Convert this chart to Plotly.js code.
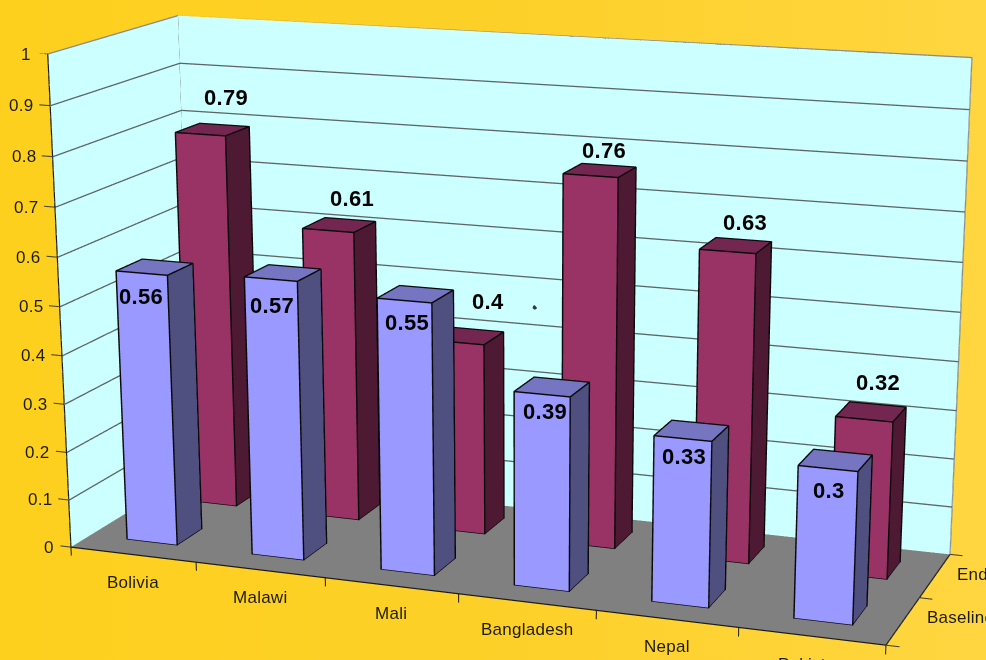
<!DOCTYPE html>
<html>
<head>
<meta charset="utf-8">
<script src="https://cdn.plot.ly/plotly-3.0.1.min.js"></script>
<style>
  html, body { margin: 0; padding: 0; width: 986px; height: 660px; overflow: hidden; }
  body { position: relative; background: linear-gradient(90deg, #fdd01e 0%, #fdd02a 55%, #ffd640 100%); }
  /* The scene is taller than the window: Plotly's lens is fixed at 45 degrees and this chart has a flat perspective. */
  #chart { position: absolute; left: 0; top: -746px; width: 1044px; height: 2426px; }
  text.annotation-text { letter-spacing: 0.015em; }
</style>
</head>
<body>
<div id="chart"></div>
<script>
const countries = ['Bolivia', 'Malawi', 'Mali', 'Bangladesh', 'Nepal', 'Pakistan'];
const seriesNames = ['Baseline', 'Endline'];
const baseline = [0.56, 0.57, 0.55, 0.39, 0.33, 0.3];
const endline = [0.79, 0.61, 0.4, 0.76, 0.63, 0.32];
const valueTicks = [0, 0.1, 0.2, 0.3, 0.4, 0.5, 0.6, 0.7, 0.8, 0.9, 1];

const palette = {
  baseline: { front: '#9999ff', top: '#7575c1', side: '#4f4f80' },
  endline: { front: '#993366', top: '#732650', side: '#4d1933' }
};

// Hand placement of the value labels, in pixels from the top of each bar.
const baselineLabelShift = [[-14, -29], [-11, -32], [-8, -28], [-7, -24], [-7, -25], [-6, -30]];
const endlineLabelShift = [[14, 32], [13, 27], [20, 35], [4, 20], [10, 23], [7, 30]];

const barInset = 0.3;   // gap on each side of a bar inside its category or series slot
const nudge = 0.004;    // lifts outlines off the faces they sit on

const flatLight = { ambient: 1, diffuse: 0, specular: 0, fresnel: 0, roughness: 1 };

// One solid mesh per series: front, right and top faces of each bar.
function barMesh(values, slot, colours) {
  const m = { x: [], y: [], z: [], i: [], j: [], k: [], facecolor: [] };
  const quad = (pts, colour) => {
    const n = m.x.length;
    pts.forEach(p => { m.x.push(p[0]); m.y.push(p[1]); m.z.push(p[2]); });
    m.i.push(n, n); m.j.push(n + 1, n + 2); m.k.push(n + 2, n + 3);
    m.facecolor.push(colour, colour);
  };
  values.forEach((v, c) => {
    const x0 = c + barInset, x1 = c + 1 - barInset, y0 = slot + barInset, y1 = slot + 1 - barInset;
    quad([[x0, y0, 0], [x1, y0, 0], [x1, y0, v], [x0, y0, v]], colours.front);
    quad([[x1, y0, 0], [x1, y1, 0], [x1, y1, v], [x1, y0, v]], colours.side);
    quad([[x0, y0, v], [x1, y0, v], [x1, y1, v], [x0, y1, v]], colours.top);
  });
  return Object.assign(m, {
    type: 'mesh3d', flatshading: true, hoverinfo: 'skip', showscale: false, lighting: flatLight
  });
}

function flatQuad(pts, colour) {
  return {
    type: 'mesh3d', x: pts.map(p => p[0]), y: pts.map(p => p[1]), z: pts.map(p => p[2]),
    i: [0, 0], j: [1, 2], k: [2, 3], color: colour, flatshading: true, hoverinfo: 'skip', lighting: flatLight
  };
}

// Polylines joined into one trace, separated by gaps.
function lines(paths, colour, width) {
  const t = { type: 'scatter3d', mode: 'lines', x: [], y: [], z: [], hoverinfo: 'skip',
              line: { color: colour, width: width }, connectgaps: false, showlegend: false };
  paths.forEach(path => {
    path.forEach(p => { t.x.push(p[0]); t.y.push(p[1]); t.z.push(p[2]); });
    t.x.push(null); t.y.push(null); t.z.push(null);
  });
  return t;
}

function barEdges(values, slot) {
  const paths = [];
  const e = nudge;
  values.forEach((v, c) => {
    const x0 = c + barInset, x1 = c + 1 - barInset, y0 = slot + barInset, y1 = slot + 1 - barInset;
    paths.push([[x0, y0 - e, 0], [x1 + e, y0 - e, 0], [x1 + e, y1, 0], [x1 + e, y1, v + e / 4], [x0, y1, v + e / 4], [x0, y0 - e, v + e / 4], [x0, y0 - e, 0]]);
    paths.push([[x0, y0 - e, v + e / 4], [x1 + e, y0 - e, v + e / 4], [x1 + e, y1, v + e / 4]]);
    paths.push([[x1 + e, y0 - e, 0], [x1 + e, y0 - e, v + e / 4]]);
  });
  return paths;
}

const nc = countries.length, ns = seriesNames.length;

const traces = [
  flatQuad([[0, 0, 0], [nc, 0, 0], [nc, ns, 0], [0, ns, 0]], '#808080'),
  flatQuad([[0, 0, 0], [0, ns, 0], [0, ns, 1], [0, 0, 1]], '#ccffff'),
  flatQuad([[0, ns, 0], [nc, ns, 0], [nc, ns, 1], [0, ns, 1]], '#ccffff'),
  lines(valueTicks.slice(1).map(v => [[nudge, 0, v], [nudge, ns - nudge, v], [nc, ns - nudge, v]]), '#5f6464', 2.6),
  lines([[[0, 0, 1], [0, ns, 1], [nc, ns, 1], [nc, ns, 0]], [[0, ns, 0], [0, ns, 1]]], '#8a8a8a', 2.6),
  // small fleck on the back wall
  { type: 'scatter3d', mode: 'markers', x: [2.84], y: [ns - nudge], z: [0.437], hoverinfo: 'skip',
    marker: { size: 2.5, color: '#33383a', line: { width: 0 } } },
  barMesh(endline, 1, palette.endline),
  lines(barEdges(endline, 1), '#0a0a0a', 2.9),
  barMesh(baseline, 0, palette.baseline),
  lines(barEdges(baseline, 0), '#0a0a0a', 2.9),
  lines([[[0, 0, 1], [0, 0, 0], [nc, 0, 0], [nc, ns, 0]]], '#1a1a1a', 2.4),
  lines(valueTicks.map(v => [[-0.085, 0, v], [0, 0, v]]), '#4a4a3a', 2.2),
  lines(countries.map((_, c) => [[c, 0, 0], [c, 0, -0.018]]).concat([[[nc, 0, 0], [nc, 0, -0.018]]]), '#1a1a1a', 2),
  lines(Array.from({ length: ns + 1 }, (_, s) => [[nc, s, 0], [nc + 0.09, s, 0]]), '#3a3a2a', 2)
];

const tickFont = { family: 'Liberation Sans, Arial, sans-serif', size: 17, color: '#1c1c0c' };
const valueFont = { family: 'Liberation Sans, Arial, sans-serif', size: 22, color: '#000000', weight: 700 };

const note = (x, y, z, text, font, xanchor, yanchor, xshift, yshift) => ({
  x, y, z, text, font, xanchor, yanchor, xshift, yshift, showarrow: false
});

const annotations = [];
valueTicks.forEach(v => annotations.push(note(0, 0, v, String(v), tickFont, 'right', 'middle', -15, 0)));
countries.forEach((name, c) => annotations.push(note(c + 0.5, 0, 0, name, tickFont, 'center', 'middle', 0, -28)));
seriesNames.forEach((name, s) => annotations.push(note(nc, s + 0.5, 0, name, tickFont, 'left', 'middle', 22 - 2 * s, 3 - 2 * s)));
baseline.forEach((v, c) => annotations.push(note(c + 0.5, 0.5, v, String(v), valueFont, 'center', 'middle', baselineLabelShift[c][0], baselineLabelShift[c][1])));
endline.forEach((v, c) => annotations.push(note(c + 0.5, 1.5, v, String(v), valueFont, 'center', 'middle', endlineLabelShift[c][0], endlineLabelShift[c][1])));

const hiddenAxis = range => ({
  range, autorange: false, visible: false, showgrid: false, zeroline: false,
  showbackground: false, showspikes: false, showticklabels: false, ticks: '', title: { text: '' }
});

const layout = {
  width: 1044, height: 2426, margin: { l: 0, r: 0, t: 0, b: 0 }, autosize: false,
  paper_bgcolor: 'rgba(0,0,0,0)', showlegend: false, dragmode: false, hovermode: false,
  scene: {
    domain: { x: [0, 1], y: [0, 1] },
    bgcolor: 'rgba(0,0,0,0)',
    dragmode: false,
    xaxis: hiddenAxis([-0.1, 6.2]),
    yaxis: hiddenAxis([0, 2]),
    zaxis: hiddenAxis([-0.04, 1]),
    aspectmode: 'manual',
    aspectratio: { x: 1.05, y: 0.3332, z: 0.61807 },
    camera: {
      eye: { x: 1.14495, y: -3.1262, z: 0.82081 },
      center: { x: -0.00025, y: 0.0242, z: -0.18649 },
      up: { x: -0.098, y: 0.2705, z: 0.9577 },
      projection: { type: 'perspective' }
    },
    annotations
  }
};

Plotly.newPlot('chart', traces, layout, { displayModeBar: false, plotGlPixelRatio: 2 });
</script>
</body>
</html>
